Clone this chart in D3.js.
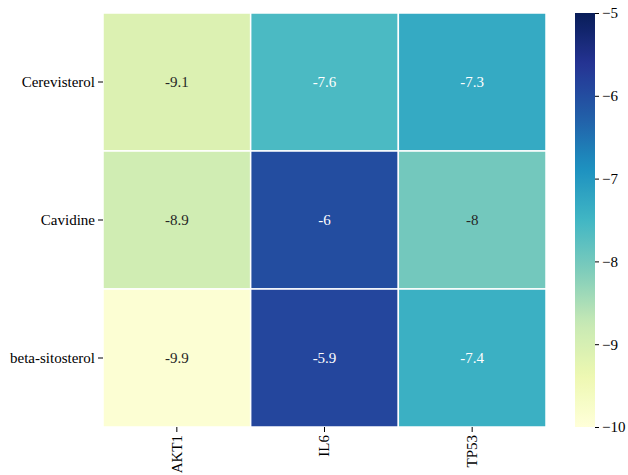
<!DOCTYPE html>
<html>
<head>
<meta charset="utf-8">
<script src="https://cdn.jsdelivr.net/npm/d3@7"></script>
<style>
  html, body { margin: 0; padding: 0; background: #fff; }
  svg { display: block; }
</style>
</head>
<body>
<svg id="chart" width="628" height="475"></svg>
<script>
// Docking scores (kcal/mol) of each compound against each target
const compounds = ["Cerevisterol", "Cavidine", "beta-sitosterol"];
const targets = ["AKT1", "IL6", "TP53"];
const scoresCerevisterol = [-9.1, -7.6, -7.3];
const scoresCavidine = [-8.9, -6.0, -8.0];
const scoresBetaSitosterol = [-9.9, -5.9, -7.4];
const colorbarTicks = [-5, -6, -7, -8, -9, -10];
const colorDomain = [-10, -5];

// YlGnBu colormap, linear between the nine ColorBrewer anchors
const ylgnbu = ["#ffffd9", "#edf8b1", "#c7e9b4", "#7fcdbb", "#41b6c4",
                "#1d91c0", "#225ea8", "#253494", "#081d58"];

const FONT = "'Liberation Serif', 'Times New Roman', serif";
const fontSize = 15;

const rows = [scoresCerevisterol, scoresCavidine, scoresBetaSitosterol];
const cells = [];
rows.forEach((vals, i) => vals.forEach((v, j) =>
  cells.push({ compound: compounds[i], target: targets[j], value: v })));

const svg = d3.select("#chart").style("font-family", FONT);
const plot = { left: 103, right: 546, top: 13, bottom: 427 };
const cbar = { left: 575, right: 595, top: 13, bottom: 427 };

const x = d3.scaleBand().domain(targets).range([plot.left, plot.right]).padding(0);
const y = d3.scaleBand().domain(compounds).range([plot.top, plot.bottom]).padding(0);

const t = d3.scaleLinear().domain(colorDomain).range([0, 1]).clamp(true);
const cmap = d3.scaleLinear()
  .domain(d3.range(ylgnbu.length).map(k => k / (ylgnbu.length - 1)))
  .range(ylgnbu)
  .interpolate(d3.interpolateRgb);
const color = v => cmap(t(v));

// Pick annotation colour from the cell's relative luminance
function textColor(c) {
  const rgb = d3.rgb(c);
  const lin = u => { u /= 255; return u <= 0.03928 ? u / 12.92 : Math.pow((u + 0.055) / 1.055, 2.4); };
  const lum = 0.2126 * lin(rgb.r) + 0.7152 * lin(rgb.g) + 0.0722 * lin(rgb.b);
  return lum > 0.408 ? "#262626" : "#ffffff";
}

// Heatmap cells
svg.append("g").selectAll("rect").data(cells).join("rect")
  .attr("x", d => x(d.target))
  .attr("y", d => y(d.compound))
  .attr("width", x.bandwidth())
  .attr("height", y.bandwidth())
  .attr("fill", d => color(d.value))
  .attr("stroke", "#ffffff")
  .attr("stroke-width", 1.5);

// Cell annotations
svg.append("g").selectAll("text").data(cells).join("text")
  .attr("x", d => x(d.target) + x.bandwidth() / 2)
  .attr("y", d => y(d.compound) + y.bandwidth() / 2)
  .attr("text-anchor", "middle")
  .attr("dy", "0.33em")
  .style("font-family", FONT)
  .style("font-size", fontSize + "px")
  .attr("fill", d => textColor(color(d.value)))
  .text(d => String(d.value));

function styleAxis(g) {
  g.attr("font-family", null).attr("font-size", null);
  g.select(".domain").remove();
  g.selectAll("line").attr("stroke", "#000");
  g.selectAll("text")
    .style("font-family", FONT)
    .style("font-size", fontSize + "px")
    .attr("fill", "#000");
}

// Axes
svg.append("g")
  .attr("transform", `translate(${plot.left},0)`)
  .call(d3.axisLeft(y).tickSize(5).tickPadding(3))
  .call(styleAxis);

const xAxis = svg.append("g")
  .attr("transform", `translate(0,${plot.bottom})`)
  .call(d3.axisBottom(x).tickSize(5).tickPadding(3))
  .call(styleAxis);
xAxis.selectAll("text")
  .attr("transform", "rotate(-90)")
  .attr("x", -8).attr("y", 0).attr("dy", "0.33em")
  .attr("text-anchor", "end");

// Colorbar
const defs = svg.append("defs");
const grad = defs.append("linearGradient").attr("id", "cbar-grad")
  .attr("x1", 0).attr("y1", 1).attr("x2", 0).attr("y2", 0);
d3.range(0, 1.0001, 0.02).forEach(s => {
  grad.append("stop").attr("offset", s).attr("stop-color", cmap(s));
});
svg.append("rect")
  .attr("x", cbar.left).attr("y", cbar.top)
  .attr("width", cbar.right - cbar.left).attr("height", cbar.bottom - cbar.top)
  .attr("fill", "url(#cbar-grad)");

const cy = d3.scaleLinear().domain(colorDomain).range([cbar.bottom, cbar.top]);
svg.append("g")
  .attr("transform", `translate(${cbar.right},0)`)
  .call(d3.axisRight(cy).tickValues(colorbarTicks).tickSize(4).tickPadding(3)
    .tickFormat(d => "\u2212" + Math.abs(d)))
  .call(styleAxis);
</script>
</body>
</html>
